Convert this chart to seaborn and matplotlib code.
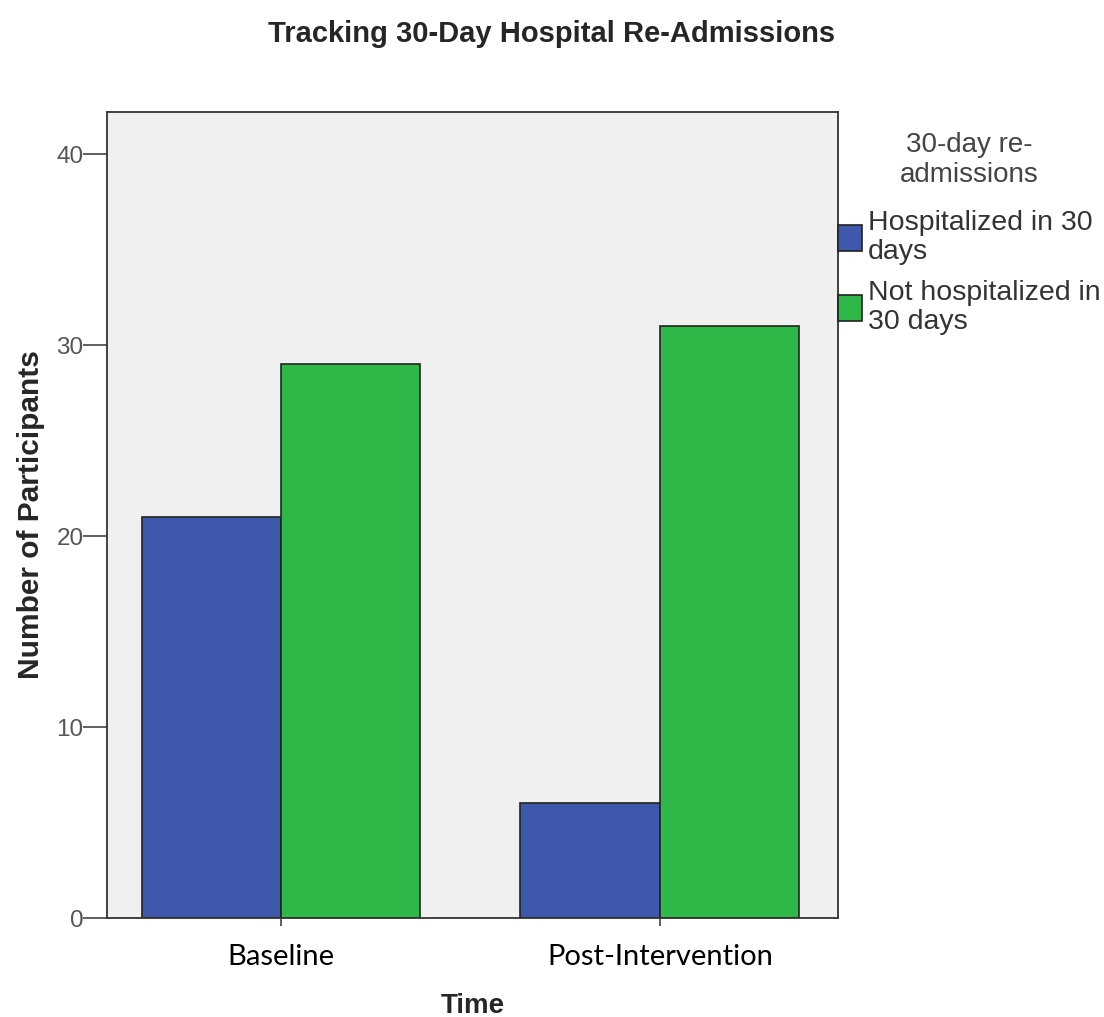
import pandas as pd
import matplotlib
matplotlib.use("Agg")
import matplotlib.pyplot as plt
import seaborn as sns

# data
times = ["Baseline", "Post-Intervention"]
groups = ["Hospitalized in 30 days", "Not hospitalized in 30 days"]
hospitalized = [21, 6]
not_hospitalized = [29, 31]
yticks = [0, 10, 20, 30, 40]

df = pd.DataFrame({
    "Time": times * 2,
    "Group": [groups[0]] * len(times) + [groups[1]] * len(times),
    "Count": hospitalized + not_hospitalized,
})

sns.set_style("ticks")
plt.rcParams["font.family"] = ["Liberation Sans", "DejaVu Sans"]

fig = plt.figure(figsize=(11.04, 10.17), dpi=100)
ax = fig.add_axes([0.097, 0.0973, 0.662, 0.7925])
ax.set_facecolor("#f0f0f0")

sns.barplot(data=df, x="Time", y="Count", hue="Group", hue_order=groups,
            palette=["#3e58ac", "#2eb848"], width=0.736, gap=0,
            edgecolor="#222222", linewidth=1.2, saturation=1, ax=ax)

ax.set_xlim(-0.459, 1.470)
ax.set_ylim(0, 42.2)
ax.set_yticks(yticks)
ax.set_yticklabels([str(t) for t in yticks], fontsize=17.5, color="#555555")
ax.set_xticks(range(len(times)))
ax.set_xticklabels(times, fontsize=21, family=["Lato", "DejaVu Sans"], color="black")
ax.tick_params(axis="y", length=17, width=1.2, color="#444444", pad=0)
ax.tick_params(axis="x", length=6, width=1.2, color="#444444", pad=13)
for s in ax.spines.values():
    s.set_color("#333333")
    s.set_linewidth(1.3)

ax.set_xlabel("Time", fontsize=20, fontweight="bold", labelpad=16)
ax.set_ylabel("Number of Participants", fontsize=21.5, fontweight="bold", labelpad=8)

handles, _ = ax.get_legend_handles_labels()
leg = ax.legend(handles, ["Hospitalized in 30\ndays", "Not hospitalized in\n30 days"],
                title="30-day re-\nadmissions", loc="upper left",
                bbox_to_anchor=(1.0, 0.975), borderaxespad=0, frameon=False,
                fontsize=20.5, title_fontsize=20, handlelength=0.84, handleheight=1.0,
                handletextpad=0.2, labelspacing=0.52, borderpad=0,
                labelcolor="#333333")
for t in leg.get_texts():
    t.set_linespacing(1.17)
leg.get_title().set_color("#444444")
leg.get_title().set_multialignment("center")
leg.get_title().set_linespacing(1.17)
leg._legend_box.sep = 16

fig.suptitle("Tracking 30-Day Hospital Re-Admissions", x=0.5, y=0.98,
             fontsize=21, fontweight="bold")

fig.savefig("out.png", dpi=100, facecolor="white")
